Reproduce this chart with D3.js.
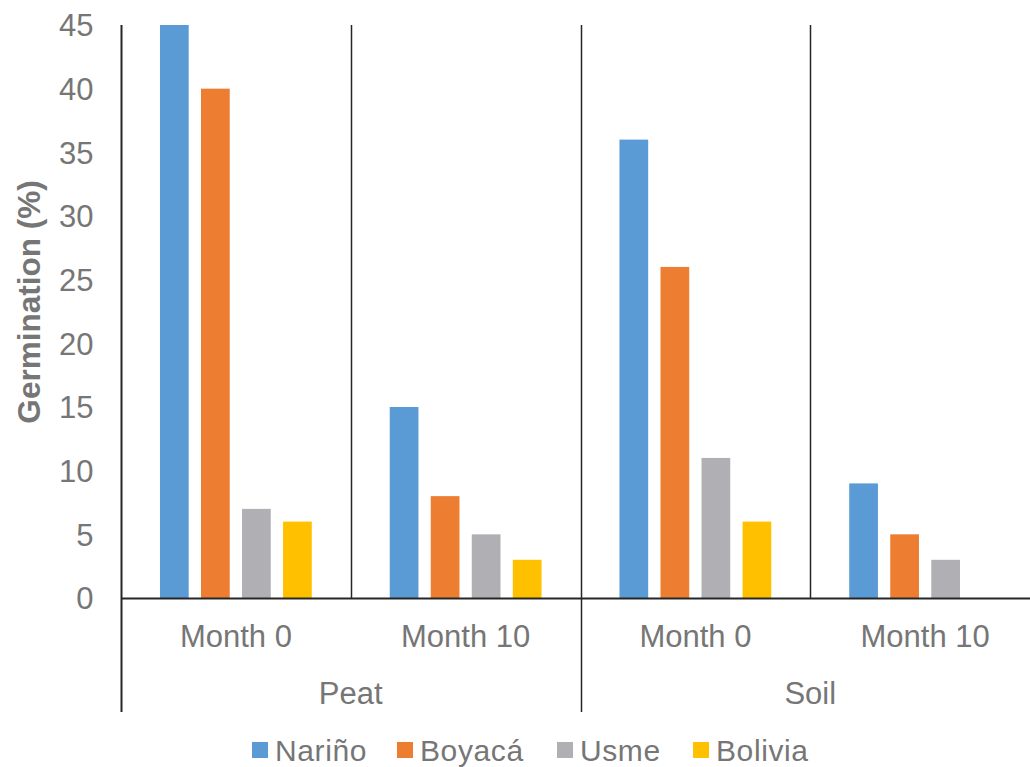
<!DOCTYPE html>
<html>
<head>
<meta charset="utf-8">
<script src="https://cdn.jsdelivr.net/npm/d3@7"></script>
<style>
  html, body { margin: 0; padding: 0; background: #fff; }
  svg { display: block; font-family: "Liberation Sans", Arial, sans-serif; }
</style>
</head>
<body>
<svg id="chart" width="1030" height="767"></svg>
<script>
// Substrates, each split into two storage times
const groups = ["Peat", "Soil"];
const months = ["Month 0", "Month 10"];
// Seed sources (legend order)
const seriesNames = ["Nariño", "Boyacá", "Usme", "Bolivia"];
const seriesColors = ["#5B9BD5", "#ED7D31", "#B0B0B4", "#FFC000"];
// Germination (%) per source, in order Peat/Month 0, Peat/Month 10, Soil/Month 0, Soil/Month 10
const narino  = [45, 15, 36, 9];
const boyaca  = [40, 8, 26, 5];
const usme    = [7, 5, 11, 3];
const bolivia = [6, 3, 6, 0];
const yTicks = [0, 5, 10, 15, 20, 25, 30, 35, 40, 45];

const seriesValues = [narino, boyaca, usme, bolivia];
const categories = [];
groups.forEach(g => months.forEach(m => categories.push(g + "|" + m)));

const textColor = "#767676";
const axisColor = "#262626";
const labelSize = "31px";

const svg = d3.select("#chart");
const plotLeft = 121, plotRight = 1040, plotTop = 25, plotBottom = 598;

const x = d3.scaleBand().domain(categories).range([plotLeft, plotRight]).padding(0);
const xs = d3.scaleBand().domain(seriesNames).range([0, x.bandwidth()])
  .paddingInner(0.3).paddingOuter(0.95);
const y = d3.scaleLinear().domain([0, 45]).range([plotBottom, plotTop]);

// Bars
seriesNames.forEach((name, si) => {
  svg.append("g")
    .selectAll("rect")
    .data(categories.map((c, ci) => ({ c, v: seriesValues[si][ci] })))
    .join("rect")
    .attr("x", d => x(d.c) + xs(name))
    .attr("y", d => y(d.v))
    .attr("width", xs.bandwidth())
    .attr("height", d => y(0) - y(d.v))
    .attr("fill", seriesColors[si]);
});

// Vertical dividers between categories inside the plot
const divG = svg.append("g").attr("stroke", axisColor).attr("stroke-width", 1.5);
categories.forEach((c, i) => {
  if (i === 0) return;
  const xx = Math.round(x(c)) + 0.5;
  const isGroupEdge = i % months.length === 0;
  divG.append("line")
    .attr("x1", xx).attr("x2", xx)
    .attr("y1", plotTop).attr("y2", isGroupEdge ? 712 : plotBottom);
});

// Y axis
const yAxis = svg.append("g")
  .attr("transform", `translate(${plotLeft + 0.5},0)`)
  .call(d3.axisLeft(y).tickValues(yTicks).tickSize(0).tickPadding(28));
yAxis.select(".domain").remove();
yAxis.selectAll("text")
  .attr("fill", textColor)
  .style("font-size", labelSize)
  .attr("dy", "0.35em");
svg.append("line")
  .attr("x1", plotLeft + 0.5).attr("x2", plotLeft + 0.5)
  .attr("y1", plotTop).attr("y2", 712)
  .attr("stroke", axisColor).attr("stroke-width", 2);

// X axis baseline
svg.append("line")
  .attr("x1", plotLeft).attr("x2", 1030)
  .attr("y1", plotBottom + 0.5).attr("y2", plotBottom + 0.5)
  .attr("stroke", axisColor).attr("stroke-width", 2);

// Month labels
const xAxis = svg.append("g")
  .attr("transform", `translate(0,${plotBottom})`)
  .call(d3.axisBottom(x).tickSize(0).tickPadding(0).tickFormat(d => d.split("|")[1]));
xAxis.select(".domain").remove();
xAxis.selectAll("text")
  .attr("fill", textColor)
  .style("font-size", labelSize)
  .attr("y", 38)
  .attr("dy", "0.35em");

// Substrate labels
const gx = d3.scaleBand().domain(groups).range([plotLeft, plotRight]);
svg.append("g").selectAll("text")
  .data(groups)
  .join("text")
  .attr("x", d => gx(d) + gx.bandwidth() / 2)
  .attr("y", 693)
  .attr("dy", "0.35em")
  .attr("text-anchor", "middle")
  .attr("fill", textColor)
  .style("font-size", labelSize)
  .text(d => d);

// Y axis title
svg.append("text")
  .attr("transform", "translate(29,302) rotate(-90)")
  .attr("text-anchor", "middle")
  .attr("dy", "0.35em")
  .attr("fill", textColor)
  .style("font-size", "31.5px")
  .style("font-weight", "bold")
  .text("Germination (%)");

// Legend
const legendX = [252, 397, 557, 693];
const lg = svg.append("g");
seriesNames.forEach((name, i) => {
  const g = lg.append("g").attr("transform", `translate(${legendX[i]},750)`);
  g.append("rect").attr("x", 0).attr("y", -8).attr("width", 16).attr("height", 16)
    .attr("fill", seriesColors[i]);
  g.append("text").attr("x", 23).attr("y", 0).attr("dy", "0.35em")
    .attr("fill", textColor).style("font-size", "30px")
    .style("letter-spacing", "0.6px").text(name);
});
</script>
</body>
</html>
